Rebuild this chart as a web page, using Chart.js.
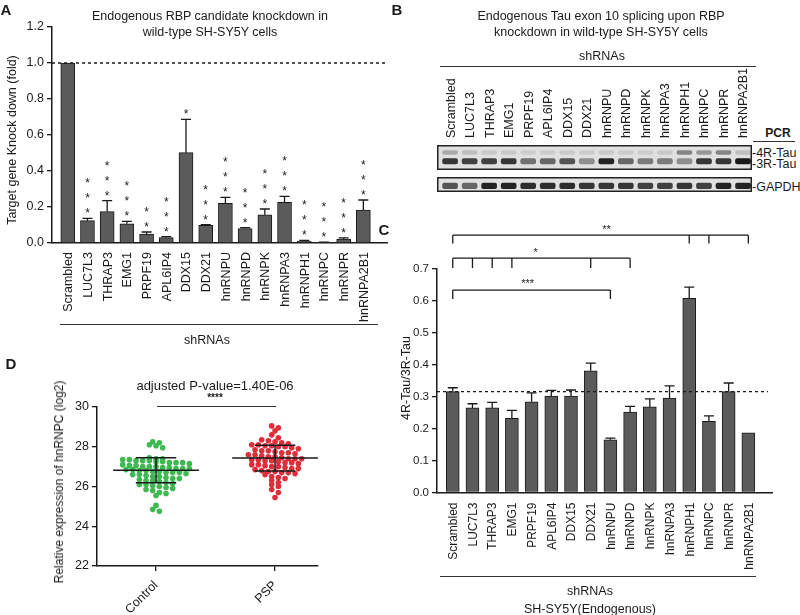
<!DOCTYPE html>
<html>
<head>
<meta charset="utf-8">
<script src="https://cdn.jsdelivr.net/npm/chart.js@4.4.1/dist/chart.umd.min.js"></script>
<style>
  body { margin: 0; background: #fff; }
  #fig { position: relative; width: 800px; height: 615px; overflow: hidden; font-family: 'Liberation Sans', Arial, sans-serif; color: #1a1a1a; }
  #fig canvas { position: absolute; }
  .t { position: absolute; white-space: nowrap; transform: translate(-50%, -50%); font-size: 12.5px; line-height: 1; }
  .v { transform: translate(-50%, -50%) rotate(-90deg); }
  .l { position: absolute; white-space: nowrap; transform: translate(0, -50%); font-size: 12.5px; line-height: 1; }
  .p { font-weight: bold; font-size: 15px; }
  .hr { position: absolute; height: 0; border-top: 1.5px solid #333; }
</style>
</head>
<body>
<div id="fig">
  <canvas id="chartA" width="400" height="350" style="left:0;top:0"></canvas>
  <canvas id="gelTau" width="315" height="110" style="left:437px;top:60px"></canvas>
  <canvas id="gelGapdh" width="315" height="15" style="left:437px;top:177px"></canvas>
  <canvas id="chartC" width="420" height="400" style="left:380px;top:215px"></canvas>
  <canvas id="chartD" width="380" height="265" style="left:0;top:350px"></canvas>

  <div class="t p" style="left:6px;top:9px">A</div>
  <div class="t" style="left:210px;top:16px">Endogenous RBP candidate knockdown in</div>
  <div class="t" style="left:210px;top:32px">wild-type SH-SY5Y cells</div>
  <div class="t v" style="left:12px;top:140px">Target gene Knock down (fold)</div>
  <div class="hr" style="left:60px;top:324px;width:318px"></div>
  <div class="t" style="left:207px;top:340px">shRNAs</div>

  <div class="t p" style="left:397px;top:9px">B</div>
  <div class="t" style="left:601px;top:16px">Endogenous Tau exon 10 splicing upon RBP</div>
  <div class="t" style="left:601px;top:32px">knockdown in wild-type SH-SY5Y cells</div>
  <div class="t" style="left:602px;top:56px">shRNAs</div>
  <div class="hr" style="left:440px;top:66px;width:316px"></div>
  <div class="t" style="left:778px;top:133px;font-weight:bold;font-size:12px">PCR</div>
  <div class="hr" style="left:753px;top:141px;width:42px"></div>
  <div class="l" style="left:752px;top:153px">-4R-Tau</div>
  <div class="l" style="left:752px;top:164px">-3R-Tau</div>
  <div class="l" style="left:752px;top:187px">-GAPDH</div>

  <div class="t p" style="left:384px;top:229px">C</div>
  <div class="t v" style="left:406px;top:378px">4R-Tau/3R-Tau</div>
  <div class="hr" style="left:440px;top:576px;width:316px"></div>
  <div class="t" style="left:590px;top:591px">shRNAs</div>
  <div class="t" style="left:590px;top:609px">SH-SY5Y(Endogenous)</div>

  <div class="t p" style="left:11px;top:363px">D</div>
  <div class="t v" style="left:59px;top:482px;font-size:12px">Relative expression of hnRNPC (log2)</div>
  <div class="t" style="left:215px;top:385px;font-size:13px">adjusted P-value=1.40E-06</div>
  <div class="t" style="left:215px;top:398px;font-size:10px;font-weight:bold">****</div>
  <div class="hr" style="left:157px;top:406px;width:119px"></div>
</div>

<script>
const shRNAs = ['Scrambled', 'LUC7L3', 'THRAP3', 'EMG1', 'PRPF19', 'APL6IP4', 'DDX15', 'DDX21',
    'hnRNPU', 'hnRNPD', 'hnRNPK', 'hnRNPA3', 'hnRNPH1', 'hnRNPC', 'hnRNPR', 'hnRNPA2B1'];

// A: knockdown fold, mean and top of SEM
const knockdown = [1.0, 0.124, 0.174, 0.107, 0.05, 0.03, 0.502, 0.098, 0.22, 0.08, 0.157, 0.226, 0.011, 0.004, 0.022, 0.183];
const knockdownErr = [null, 0.137, 0.235, 0.12, 0.061, 0.035, 0.687, 0.102, 0.254, 0.085, 0.189, 0.259, 0.015, 0.005, 0.028, 0.239];
const knockdownStars = [0, 3, 3, 3, 2, 3, 1, 3, 3, 3, 3, 3, 3, 3, 3, 3];
const knockdownTicks = [0, 0.2, 0.4, 0.6, 0.8, 1.0, 1.2];

// B: band darkness per lane (0 = none, 1 = darkest)
const band4R = [0.25, 0.15, 0.1, 0.1, 0.08, 0.08, 0.1, 0.08, 0.1, 0.08, 0.08, 0.1, 0.45, 0.35, 0.45, 0.15];
const band3R = [0.85, 0.8, 0.8, 0.85, 0.55, 0.6, 0.7, 0.4, 0.95, 0.6, 0.5, 0.5, 0.4, 0.85, 0.85, 1.0];
const bandGAPDH = [0.7, 0.6, 0.95, 0.95, 0.9, 0.9, 0.9, 0.85, 0.85, 0.85, 0.8, 0.8, 0.85, 0.8, 0.95, 0.95];

// C: 4R/3R ratio, mean and top of SEM
const ratio = [0.316, 0.265, 0.265, 0.232, 0.284, 0.302, 0.302, 0.381, 0.165, 0.252, 0.268, 0.296, 0.608, 0.223, 0.316, 0.187];
const ratioErr = [0.328, 0.278, 0.282, 0.257, 0.312, 0.32, 0.321, 0.405, 0.17, 0.27, 0.293, 0.334, 0.643, 0.24, 0.343, null];
const ratioTicks = [0, 0.1, 0.2, 0.3, 0.4, 0.5, 0.6, 0.7];
const comparisons = [
    { label: '**', from: 0, to: 15, drops: [0, 12, 13, 15], level: 0.806, dropTo: 0.78, at: 7.8 },
    { label: '*', from: 0, to: 9, drops: [0, 1, 2, 3, 7, 9], level: 0.734, dropTo: 0.703, at: 4.2 },
    { label: '***', from: 0, to: 8, drops: [0, 8], level: 0.634, dropTo: 0.606, at: 3.8 }
];

// D: hnRNPC expression (log2)
const groups = ['Control', 'PSP'];
const controlExpr = [28.25, 28.2, 28.1, 28.05, 27.95,
    27.45, 27.4, 27.4, 27.35, 27.35, 27.3, 27.3, 27.3, 27.25, 27.25, 27.2, 27.2, 27.2, 27.15,
    27.1, 27.05, 27.05, 27.0, 27.0, 27.0, 26.95, 26.95, 26.9, 26.9, 26.9, 26.85,
    26.85, 26.8, 26.8, 26.75, 26.75, 26.7, 26.7, 26.7, 26.65, 26.6, 26.6, 26.55,
    26.5, 26.5, 26.45, 26.4, 26.4, 26.35, 26.3, 26.3, 26.25, 26.2,
    26.15, 26.1, 26.1, 26.05, 26.0, 25.95, 25.9, 25.85,
    25.8, 25.7, 25.65, 25.55, 25.05, 24.85, 24.75];
const pspExpr = [29.05, 28.95, 28.8, 28.6, 28.45,
    28.35, 28.3, 28.25, 28.2, 28.15, 28.1, 28.1, 28.05, 28.05, 28.0, 28.0, 27.95,
    27.9, 27.85, 27.8, 27.8, 27.75, 27.7, 27.7, 27.65, 27.6, 27.6, 27.55, 27.5, 27.5,
    27.45, 27.4, 27.4, 27.4, 27.35, 27.35, 27.3, 27.3, 27.25, 27.2, 27.2, 27.15,
    27.1, 27.1, 27.05, 27.0, 27.0, 26.95, 26.9, 26.9, 26.85, 26.8,
    26.75, 26.75, 26.7, 26.7, 26.65, 26.6, 26.5, 26.45, 26.4,
    26.3, 26.2, 26.1, 26.0, 25.85, 25.7, 25.45];
const groupMean = [26.82, 27.43];
const groupSD = [0.63, 0.65];
const exprTicks = [22, 24, 26, 28, 30];

const INK = '#1a1a1a';
const BAR = '#5b5b5b';
Chart.defaults.font.family = "'Liberation Sans', Arial, sans-serif";
Chart.defaults.color = INK;

// keep the plot area exactly where the axis boxes put it
function noEdgePadding(s) {
    s.paddingLeft = 0;
    s.paddingRight = 0;
    s.paddingTop = 0;
    s.paddingBottom = 0;
}

// error bars (upper half only), drawn through the chart scales
const errorBars = {
    id: 'errorBars',
    afterDatasetsDraw(chart, args, opts) {
        const { ctx, scales: { x, y } } = chart;
        ctx.save();
        ctx.strokeStyle = INK;
        ctx.lineWidth = 1.3;
        opts.tops.forEach((top, i) => {
            if (top == null) return;
            const px = x.getPixelForValue(i);
            const y0 = y.getPixelForValue(opts.values[i]);
            const y1 = y.getPixelForValue(top);
            ctx.beginPath();
            ctx.moveTo(px, y0);
            ctx.lineTo(px, y1);
            ctx.moveTo(px - opts.cap, y1);
            ctx.lineTo(px + opts.cap, y1);
            ctx.stroke();
        });
        ctx.restore();
    }
};

const refLine = {
    id: 'refLine',
    afterDatasetsDraw(chart, args, opts) {
        const { ctx, chartArea, scales: { y } } = chart;
        const py = y.getPixelForValue(opts.value);
        ctx.save();
        ctx.strokeStyle = INK;
        ctx.lineWidth = 1.3;
        ctx.setLineDash([3, 3]);
        ctx.beginPath();
        ctx.moveTo(chartArea.left, py);
        ctx.lineTo(chartArea.right - (opts.shorten || 0), py);
        ctx.stroke();
        ctx.restore();
    }
};

function drawStar(ctx, text, x, y, size) {
    ctx.font = `${size}px 'Liberation Sans', Arial, sans-serif`;
    ctx.textAlign = 'center';
    ctx.textBaseline = 'alphabetic';
    ctx.fillText(text, x, y + size * 0.58);
}

const starMarks = {
    id: 'starMarks',
    afterDatasetsDraw(chart) {
        const { ctx, scales: { x, y } } = chart;
        ctx.save();
        ctx.fillStyle = INK;
        knockdownStars.forEach((n, i) => {
            const top = knockdownErr[i] != null ? knockdownErr[i] : knockdown[i];
            const base = y.getPixelForValue(top) - 8;
            for (let k = 0; k < n; k++) drawStar(ctx, '*', x.getPixelForValue(i), base - 15 * k, 12);
        });
        ctx.restore();
    }
};

const compareBrackets = {
    id: 'compareBrackets',
    afterDraw(chart) {
        const { ctx, scales: { x, y } } = chart;
        ctx.save();
        ctx.strokeStyle = INK;
        ctx.fillStyle = INK;
        ctx.lineWidth = 1.3;
        comparisons.forEach(c => {
            const py = y.getPixelForValue(c.level);
            const pd = y.getPixelForValue(c.dropTo);
            ctx.beginPath();
            ctx.moveTo(x.getPixelForValue(c.from), py);
            ctx.lineTo(x.getPixelForValue(c.to), py);
            c.drops.forEach(d => {
                ctx.moveTo(x.getPixelForValue(d), py);
                ctx.lineTo(x.getPixelForValue(d), pd);
            });
            ctx.stroke();
            drawStar(ctx, c.label, x.getPixelForValue(c.at), py - 9, 11);
        });
        ctx.restore();
    }
};

const gelBox = {
    id: 'gelBox',
    beforeDatasetsDraw(chart) {
        const { ctx, chartArea: a } = chart;
        ctx.save();
        ctx.fillStyle = '#e0e0e0';
        ctx.fillRect(a.left, a.top, a.right - a.left, a.bottom - a.top);
        ctx.restore();
    },
    afterDatasetsDraw(chart) {
        const { ctx, chartArea: a } = chart;
        ctx.save();
        ctx.strokeStyle = '#222';
        ctx.lineWidth = 1.5;
        ctx.strokeRect(a.left + 0.75, a.top + 0.75, a.right - a.left - 1.5, a.bottom - a.top - 1.5);
        ctx.restore();
    }
};

const meanSD = {
    id: 'meanSD',
    afterDatasetsDraw(chart) {
        const { ctx, scales: { x, y } } = chart;
        ctx.save();
        ctx.strokeStyle = INK;
        ctx.lineWidth = 1.5;
        groupMean.forEach((m, i) => {
            const cx = i + 1;
            const seg = (v, half) => {
                ctx.moveTo(x.getPixelForValue(cx - half), y.getPixelForValue(v));
                ctx.lineTo(x.getPixelForValue(cx + half), y.getPixelForValue(v));
            };
            ctx.beginPath();
            seg(m, 0.36);
            seg(m + groupSD[i], 0.17);
            seg(m - groupSD[i], 0.17);
            ctx.moveTo(x.getPixelForValue(cx), y.getPixelForValue(m + groupSD[i]));
            ctx.lineTo(x.getPixelForValue(cx), y.getPixelForValue(m - groupSD[i]));
            ctx.stroke();
        });
        ctx.restore();
    }
};

function valueAxis(min, max, ticks, width, size, digits) {
    return {
        min, max,
        afterBuildTicks: s => { s.ticks = ticks.map(v => ({ value: v })); },
        afterFit: s => { s.width = width; noEdgePadding(s); },
        grid: { drawOnChartArea: false, tickLength: 5, color: INK, lineWidth: 1.3 },
        border: { color: INK, width: 1.5 },
        ticks: { font: { size }, padding: 3, callback: v => v.toFixed(digits) }
    };
}

// bar charts default to offset index axes; lanes are placed by value here, so switch that off
function laneAxis(min, max, height, size, pad, shift) {
    return {
        type: 'linear', min, max, offset: false,
        afterBuildTicks: s => { s.ticks = shRNAs.map((_, i) => ({ value: i })); },
        afterFit: s => { s.height = height; noEdgePadding(s); },
        grid: { display: false },
        border: { color: INK, width: 1.5 },
        ticks: {
            autoSkip: false, minRotation: 90, maxRotation: 90, padding: pad, labelOffset: shift,
            font: { size }, callback: v => shRNAs[v]
        }
    };
}

const common = { animation: false, responsive: false, devicePixelRatio: 1 };

// panel A
new Chart(document.getElementById('chartA'), {
    type: 'bar',
    data: {
        datasets: [{
            data: knockdown.map((v, i) => ({ x: i, y: v })),
            backgroundColor: BAR, borderColor: INK, borderWidth: 1, barThickness: 14
        }]
    },
    options: {
        ...common,
        layout: { padding: { left: 0, top: 27, right: 13, bottom: 0 } },
        plugins: {
            legend: { display: false }, tooltip: { enabled: false },
            errorBars: { values: knockdown, tops: knockdownErr, cap: 5 },
            refLine: { value: 1.0 }
        },
        scales: {
            x: laneAxis(-0.8, 16.2, 107, 12.5, 1, 1),
            y: valueAxis(0, 1.2, knockdownTicks, 52, 12.5, 1)
        }
    },
    plugins: [errorBars, refLine, starMarks]
});

// panel B gels
function shade(d) {
    const g = Math.round(220 - 195 * d);
    return `rgb(${g},${g},${g})`;
}
function bandSet(levels, lo, hi) {
    return {
        data: levels.map((_, i) => ({ x: i, y: [lo, hi] })),
        backgroundColor: c => shade(levels[c.dataIndex]),
        borderWidth: 0, borderSkipped: false, borderRadius: 2, barThickness: 15, grouped: false
    };
}
const gelOptions = (withLabels, xAxisHeight) => ({
    ...common,
    layout: { padding: 0 },
    plugins: { legend: { display: false }, tooltip: { enabled: false } },
    scales: {
        x: {
            type: 'linear', min: -0.67, max: 15.46, offset: false, position: 'top', display: withLabels,
            afterBuildTicks: s => { s.ticks = shRNAs.map((_, i) => ({ value: i })); },
            afterFit: s => { s.height = xAxisHeight; noEdgePadding(s); },
            grid: { display: false }, border: { display: false },
            ticks: {
                autoSkip: false, minRotation: 90, maxRotation: 90, padding: -1, labelOffset: 16,
                font: { size: 12.5 }, callback: v => shRNAs[v]
            }
        },
        y: { min: 0, max: 1, reverse: true, display: false }
    }
});

new Chart(document.getElementById('gelTau'), {
    type: 'bar',
    data: { datasets: [bandSet(band4R, 0.22, 0.38), bandSet(band3R, 0.54, 0.76)] },
    options: gelOptions(true, 85),
    plugins: [gelBox]
});

new Chart(document.getElementById('gelGapdh'), {
    type: 'bar',
    data: { datasets: [bandSet(bandGAPDH, 0.4, 0.78)] },
    options: gelOptions(false, 0),
    plugins: [gelBox]
});

// panel C
new Chart(document.getElementById('chartC'), {
    type: 'bar',
    data: {
        datasets: [{
            data: ratio.map((v, i) => ({ x: i, y: v })),
            backgroundColor: BAR, borderColor: INK, borderWidth: 1, barThickness: 13
        }]
    },
    options: {
        ...common,
        layout: { padding: { left: 0, top: 54, right: 28, bottom: 0 } },
        plugins: {
            legend: { display: false }, tooltip: { enabled: false },
            errorBars: { values: ratio, tops: ratioErr, cap: 5 },
            refLine: { value: ratio[0], shorten: 4 }
        },
        scales: {
            x: laneAxis(-0.8, 16.2, 122.5, 12, 2, 1),
            y: valueAxis(0, 0.7, ratioTicks, 57, 11.5, 1)
        }
    },
    plugins: [errorBars, refLine, compareBrackets]
});

// panel D: lay points out in rows (column scatter), positions derived from the values
function swarm(values, centre) {
    const rows = new Map();
    values.forEach(v => {
        const r = Math.round(v / 0.25);
        if (!rows.has(r)) rows.set(r, []);
        rows.get(r).push(v);
    });
    const pts = [];
    rows.forEach(list => {
        list.forEach((v, i) => pts.push({ x: centre + (i - (list.length - 1) / 2) * 0.056, y: v }));
    });
    return pts;
}

new Chart(document.getElementById('chartD'), {
    type: 'scatter',
    data: {
        datasets: [
            { data: swarm(controlExpr, 1), backgroundColor: 'rgb(62,184,80)', pointRadius: 2.8, borderWidth: 0 },
            { data: swarm(pspExpr, 2), backgroundColor: 'rgb(222,46,58)', pointRadius: 2.8, borderWidth: 0 }
        ]
    },
    options: {
        ...common,
        layout: { padding: { left: 0, top: 57, right: 62, bottom: 0 } },
        plugins: { legend: { display: false }, tooltip: { enabled: false } },
        scales: {
            x: {
                type: 'linear', min: 0.504, max: 2.361,
                afterBuildTicks: s => { s.ticks = groups.map((_, i) => ({ value: i + 1 })); },
                afterFit: s => { s.height = 49; noEdgePadding(s); },
                grid: { drawOnChartArea: false, tickLength: 5, color: INK, lineWidth: 1.3 },
                border: { color: INK, width: 1.5 },
                ticks: { autoSkip: false, minRotation: 45, maxRotation: 45, padding: 7, font: { size: 12.5 }, callback: v => groups[v - 1] }
            },
            y: valueAxis(22, 30, exprTicks, 97, 12.5, 0)
        }
    },
    plugins: [meanSD]
});
</script>
</body>
</html>
